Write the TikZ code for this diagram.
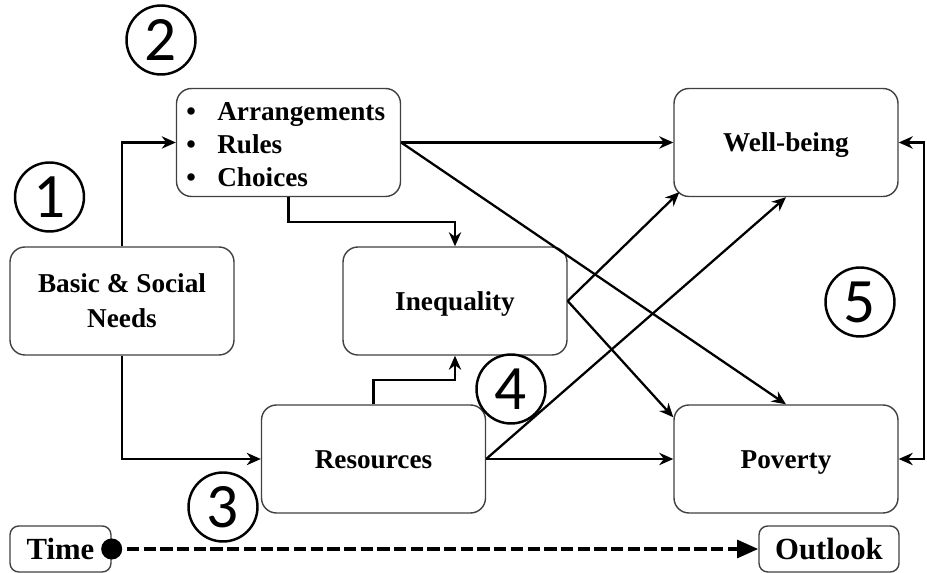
\documentclass[tikz,border=0pt]{standalone}
\usepackage{fontspec}
\setmainfont{Liberation Serif}
\newfontfamily\numfont{Carlito}
\usetikzlibrary{arrows.meta,calc}
\begin{document}
\begin{tikzpicture}[x=0.02cm,y=-0.02cm,
 box/.style={draw=black!75, line width=0.8pt, rounded corners=8.5pt, minimum width=4.48cm, minimum height=2.16cm, align=center, font=\fontsize{15.5}{19.8}\selectfont\bfseries, inner sep=0pt},
 oneline/.style={text height=10.6pt, text depth=0pt},
 smallbox/.style={draw=black!75, line width=0.8pt, rounded corners=5pt, minimum height=0.92cm, font=\fontsize{17.5}{20}\selectfont\bfseries, inner sep=0pt, text height=11.8pt, text depth=0pt},
 conn/.style={line width=1.3pt, -{Stealth[length=8pt,width=7pt]}},
 num/.style={circle, draw, line width=1.4pt, minimum size=1.38cm, inner sep=0pt, font=\numfont\fontsize{36}{36}\selectfont}
]
\useasboundingbox (0,0) rectangle (927,573);
% boxes
\node[box] (arr) at (288.5,142.5) {};
\node[anchor=west, inner sep=0pt, align=left, font=\fontsize{15.5}{18.7}\selectfont\bfseries] (arrtext) at (186,145)
  {\makebox[17.6pt][l]{\textbullet}Arrangements\\\makebox[17.6pt][l]{\textbullet}Rules\\\makebox[17.6pt][l]{\textbullet}Choices};
\node[box] (basic) at (122,301) {Basic \& Social\\Needs};
\node[box, oneline] (ineq) at (455,301) {Inequality};
\node[box, oneline] (res) at (373.5,459) {Resources};
\node[box, oneline] (wb) at (786,142.5) {Well-being};
\node[box, oneline] (pov) at (786,459) {Poverty};
\node[smallbox, minimum width=2.02cm] (time) at (60.5,549) {Time};
\node[smallbox, minimum width=2.8cm] (out) at (829,549) {Outlook};
% circled numbers
\node[num] (n1) at (49.5,197) {1};
\node[num] (n2) at (161,40) {2};
\node[num] (n3) at (223,507) {3};
\node[num] (n4) at (511,389) {4};
\node[num] (n5) at (860,302) {5};
% connectors
\draw[conn] (basic.north) |- (arr.west);
\draw[conn] (basic.south) |- (res.west);
\draw[conn] (arr.south) -- ++(0,25) -| (ineq.north);
\draw[conn] (res.north) -- ++(0,-24) -| (ineq.south);
\draw[conn] (arr.east) -- (wb.west);
\draw[conn] (arr.east) -- (pov.north);
\draw[conn] (ineq.east) -- ($(wb.south west)+(6,-5)$);
\draw[conn] (ineq.east) -- ($(pov.north west)+(0,13)$);
\draw[conn] (res.east) -- (wb.south);
\draw[conn] (res.east) -- (pov.west);
\draw[conn, {Stealth[length=8pt,width=7pt]}-{Stealth[length=8pt,width=7pt]}] (wb.east) -- ++(25,0) |- (pov.east);
% time line
\node[circle, fill, minimum size=12pt, inner sep=0pt] (dot) at (time.east) {};
\draw[line width=2.2pt, dash pattern=on 7pt off 2.5pt, -{Triangle[length=12pt,width=10pt]}] (dot.east) ++(2.5pt,0) -- (out.west);
\end{tikzpicture}
\end{document}
